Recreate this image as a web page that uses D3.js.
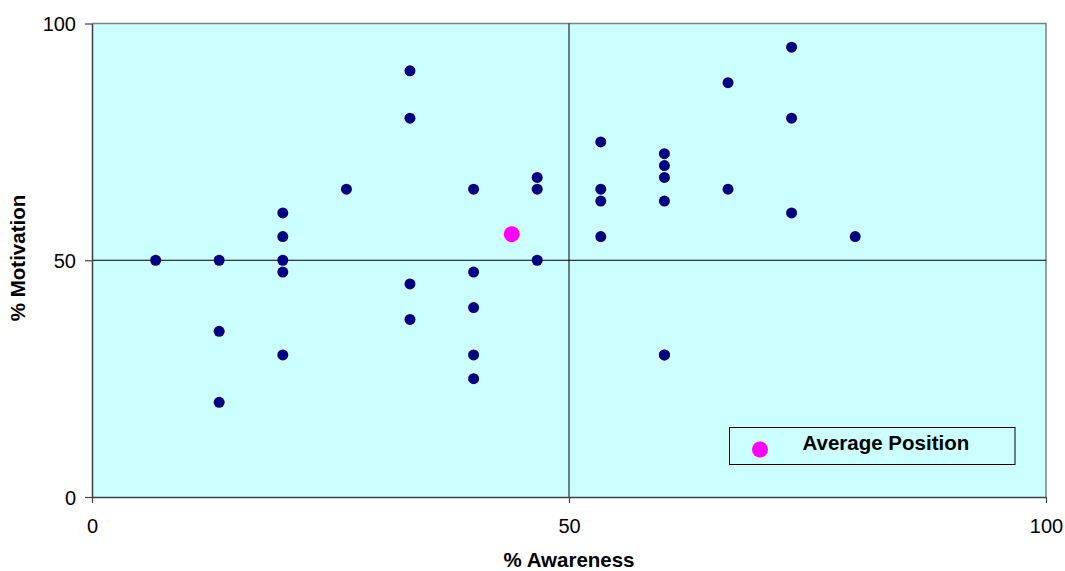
<!DOCTYPE html>
<html>
<head>
<meta charset="utf-8">
<script src="https://cdn.jsdelivr.net/npm/d3@7/dist/d3.min.js"></script>
<style>
  body { margin: 0; background: #fff; }
  svg { display: block; font-family: "Liberation Sans", Arial, sans-serif; }
</style>
</head>
<body>
<svg id="chart" width="1065" height="571"></svg>
<script>
// Data
const awareness = [6.67, 13.33, 13.33, 13.33, 20, 20, 20, 20, 20, 26.67,
  33.33, 33.33, 33.33, 33.33, 40, 40, 40, 40, 40, 46.67, 46.67, 46.67,
  53.33, 53.33, 53.33, 53.33, 60, 60, 60, 60, 60, 60, 66.67, 66.67,
  73.33, 73.33, 73.33, 80];
const motivation = [50, 50, 35, 20, 60, 55, 50, 47.5, 30, 65,
  90, 80, 45, 37.5, 65, 47.5, 40, 30, 25, 67.5, 65, 50,
  75, 65, 62.5, 55, 72.5, 70, 67.5, 62.5, 30, 30, 87.5, 65,
  95, 80, 60, 55];
const avgAwareness = [44.0];
const avgMotivation = [55.5];
const xTicks = [0, 50, 100];
const yTicks = [0, 50, 100];
const xTitle = "% Awareness";
const yTitle = "% Motivation";
const legendLabel = "Average Position";

const svg = d3.select("#chart");
const pL = 92, pR = 1046, pT = 23.5, pB = 497;
const x = d3.scaleLinear().domain([0, 100]).range([pL, pR]);
const y = d3.scaleLinear().domain([0, 100]).range([pB, pT]);

// plot background
svg.append("rect").attr("x", pL).attr("y", pT)
  .attr("width", pR - pL).attr("height", pB - pT)
  .attr("fill", "#CCFFFF");

// top & right border (gray)
svg.append("path")
  .attr("d", `M${pL},${pT}H${pR}V${pB}`)
  .attr("fill", "none").attr("stroke", "#808080").attr("stroke-width", 1.5);

// quadrant lines
svg.append("line").attr("x1", x(50)).attr("x2", x(50)).attr("y1", pT).attr("y2", pB)
  .attr("stroke", "#000").attr("stroke-width", 1);
svg.append("line").attr("x1", pL).attr("x2", pR).attr("y1", y(50)).attr("y2", y(50))
  .attr("stroke", "#000").attr("stroke-width", 1);

// axes
const xAxis = svg.append("g").attr("transform", `translate(0,${pB})`)
  .call(d3.axisBottom(x).tickValues(xTicks).tickSize(6).tickPadding(16).tickSizeOuter(0));
const yAxis = svg.append("g").attr("transform", `translate(${pL},0)`)
  .call(d3.axisLeft(y).tickValues(yTicks).tickSize(7).tickPadding(9).tickSizeOuter(0));
[xAxis, yAxis].forEach(g => {
  g.select(".domain").attr("stroke", "#404040").attr("stroke-width", 1.5);
  g.selectAll(".tick line").attr("stroke", "#404040").attr("stroke-width", 1.2);
  g.selectAll(".tick text").attr("font-size", "20px")
    .attr("font-family", "'Liberation Sans', Arial, sans-serif").attr("fill", "#000");
});
xAxis.selectAll(".tick text").attr("dy", "0.68em");
yAxis.selectAll(".tick text").attr("dy", "0.35em");

// data points
svg.append("g").selectAll("circle").data(awareness.map((a, i) => [a, motivation[i]]))
  .join("circle")
  .attr("cx", d => x(d[0])).attr("cy", d => y(d[1])).attr("r", 5.5)
  .attr("fill", "#000080");

// average
svg.append("g").selectAll("circle").data(avgAwareness.map((a, i) => [a, avgMotivation[i]]))
  .join("circle")
  .attr("cx", d => x(d[0])).attr("cy", d => y(d[1])).attr("r", 8)
  .attr("fill", "#FF00FF");

// axis titles
svg.append("text").attr("x", 569).attr("y", 567).attr("text-anchor", "middle")
  .attr("font-size", "20.5px").attr("font-weight", "bold").text(xTitle);
svg.append("text").attr("transform", "translate(25,258) rotate(-90)")
  .attr("text-anchor", "middle").attr("font-size", "20.5px").attr("font-weight", "bold").text(yTitle);

// legend
const lg = svg.append("g");
lg.append("rect").attr("x", 729.5).attr("y", 427.5).attr("width", 285.5).attr("height", 37)
  .attr("fill", "#CCFFFF").attr("stroke", "#000").attr("stroke-width", 1);
lg.append("circle").attr("cx", 760).attr("cy", 449.5).attr("r", 8).attr("fill", "#FF00FF");
lg.append("text").attr("x", 802.5).attr("y", 449.5).attr("font-size", "20.5px")
  .attr("font-weight", "bold").text(legendLabel);
</script>
</body>
</html>
